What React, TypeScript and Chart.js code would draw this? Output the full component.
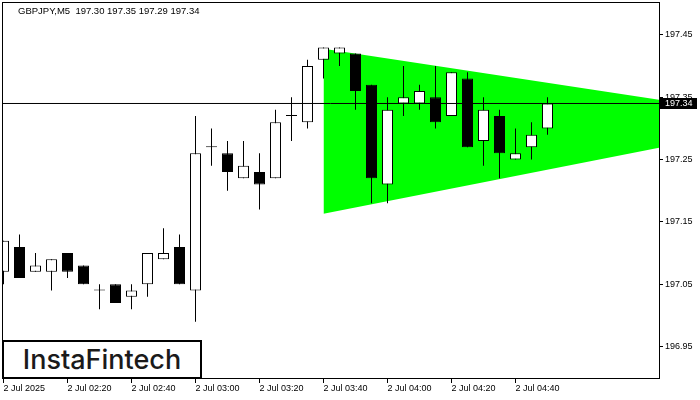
import React, { useEffect, useRef } from "react";
import { Chart, registerables } from "chart.js";

Chart.register(...registerables);

// ---- data ----
const symbolTitle = "GBPJPY,M5";
const barIndex = [0, 1, 2, 3, 4, 5, 6, 7, 8, 9, 10, 11, 12, 13, 14, 15, 16, 17, 18, 19, 20, 21, 22, 23, 24, 25, 26, 27, 28, 29, 30, 31, 32, 33, 34];
const opens = [197.07, 197.11, 197.07, 197.07, 197.10, 197.08, 197.04, 197.05, 197.03, 197.05, 197.09, 197.11, 197.04, 197.27, 197.26, 197.22, 197.23, 197.22, 197.32, 197.31, 197.41, 197.42, 197.42, 197.37, 197.21, 197.34, 197.34, 197.35, 197.32, 197.38, 197.28, 197.32, 197.25, 197.27, 197.30];
const highs = [197.12, 197.13, 197.10, 197.09, 197.10, 197.08, 197.05, 197.05, 197.05, 197.10, 197.14, 197.13, 197.32, 197.30, 197.28, 197.28, 197.26, 197.33, 197.35, 197.41, 197.43, 197.43, 197.42, 197.37, 197.35, 197.40, 197.37, 197.40, 197.39, 197.39, 197.35, 197.33, 197.30, 197.31, 197.35];
const lows = [197.05, 197.06, 197.07, 197.04, 197.06, 197.05, 197.01, 197.02, 197.01, 197.03, 197.09, 197.05, 196.99, 197.24, 197.20, 197.22, 197.17, 197.22, 197.28, 197.30, 197.38, 197.40, 197.33, 197.18, 197.18, 197.32, 197.33, 197.30, 197.32, 197.27, 197.24, 197.22, 197.25, 197.25, 197.29];
const closes = [197.12, 197.06, 197.08, 197.09, 197.07, 197.05, 197.04, 197.02, 197.04, 197.10, 197.10, 197.05, 197.26, 197.27, 197.23, 197.24, 197.21, 197.31, 197.32, 197.40, 197.43, 197.43, 197.36, 197.22, 197.33, 197.35, 197.36, 197.31, 197.39, 197.27, 197.33, 197.26, 197.26, 197.29, 197.34];
const xTickIndex = [0, 4, 8, 12, 16, 20, 24, 28, 32];
const xTickLabels = ["2 Jul 2025", "2 Jul 02:20", "2 Jul 02:40", "2 Jul 03:00", "2 Jul 03:20", "2 Jul 03:40", "2 Jul 04:00", "2 Jul 04:20", "2 Jul 04:40"];
const yTickValues = [196.95, 197.05, 197.15, 197.25, 197.35, 197.45];
const triangleX = [20, 41];
const triangleUpper = [197.428, 197.346];
const triangleLower = [197.163, 197.269];
const currentPrice = closes[closes.length - 1];
const logoText = "InstaFintech";

const X_MIN = -0.09375;
const X_MAX = 40.96875;
const Y_MIN = 196.8997;
const Y_MAX = 197.5028;
const FONT = "Liberation Sans";

const framePlugin = {
  id: "frameAndPrice",
  afterDraw(chart: any) {
    const { ctx, chartArea } = chart;
    ctx.save();
    ctx.strokeStyle = "#000";
    ctx.lineWidth = 1;
    ctx.strokeRect(chartArea.left + 0.5, chartArea.top + 0.5, chartArea.right - chartArea.left, chartArea.bottom - chartArea.top);
    const yScale = chart.scales.y;
    const py = Math.round(yScale.getPixelForValue(currentPrice));
    ctx.fillStyle = "#000";
    ctx.fillRect(chartArea.right + 1, py - 5, 37, 11);
    ctx.fillStyle = "#fff";
    ctx.font = `9px "${FONT}"`;
    ctx.textBaseline = "middle";
    ctx.textAlign = "left";
    ctx.fillText(currentPrice.toFixed(2), chartArea.right + 6, py + 0.5);
    ctx.restore();
  },
};

export default function App() {
  const canvasRef = useRef<HTMLCanvasElement | null>(null);

  useEffect(() => {
    const canvas = canvasRef.current;
    if (!canvas) return;
    const bodies = barIndex.map((i) => ({ x: i, y: [opens[i], closes[i]] }));
    const wicks = barIndex.map((i) => ({ x: i, y: [lows[i], highs[i]] }));
    const bodyColors = barIndex.map((i) => (closes[i] >= opens[i] ? "#ffffff" : "#000000"));

    const chart = new Chart(canvas, {
      type: "bar",
      data: {
        datasets: [
          {
            type: "line",
            data: triangleX.map((x, k) => ({ x, y: triangleUpper[k] })),
            borderColor: "rgba(0,0,0,0)",
            borderWidth: 0,
            pointRadius: 0,
            fill: false,
            order: 4,
          } as any,
          {
            type: "line",
            data: triangleX.map((x, k) => ({ x, y: triangleLower[k] })),
            borderColor: "rgba(0,0,0,0)",
            backgroundColor: "#00ff00",
            borderWidth: 0,
            pointRadius: 0,
            fill: "-1",
            order: 3,
          } as any,
          {
            type: "bar",
            data: wicks,
            backgroundColor: "#000",
            borderWidth: 0,
            barThickness: 1,
            grouped: false,
            inflateAmount: 0,
            order: 2,
          } as any,
          {
            type: "bar",
            data: bodies,
            backgroundColor: bodyColors,
            borderColor: "#000",
            borderWidth: 1,
            borderSkipped: false,
            barThickness: 11,
            minBarLength: 1,
            grouped: false,
            inflateAmount: 0,
            order: 1,
          } as any,
          {
            type: "line",
            data: [
              { x: X_MIN - 1, y: currentPrice },
              { x: X_MAX + 1, y: currentPrice },
            ],
            borderColor: "#000",
            borderWidth: 1,
            pointRadius: 0,
            fill: false,
            order: 0,
          } as any,
        ],
      },
      options: {
        responsive: false,
        animation: false,
        events: [],
        layout: { padding: { left: 2, top: 2, right: 0, bottom: 0 } },
        plugins: {
          legend: { display: false },
          tooltip: { enabled: false },
        },
        scales: {
          x: {
            type: "linear",
            min: X_MIN,
            max: X_MAX,
            offset: false,
            afterFit: (s: any) => {
              s.height = 22;
              s.paddingLeft = 0;
              s.paddingRight = 0;
            },
            afterBuildTicks: (s: any) => {
              s.ticks = xTickIndex.map((v) => ({ value: v }));
            },
            grid: { display: true, drawOnChartArea: false, drawTicks: true, tickLength: 5, color: "#000", offset: false },
            border: { display: false },
            ticks: {
              autoSkip: false,
              maxRotation: 0,
              minRotation: 0,
              align: "start",
              padding: 0,
              color: "#000",
              font: { family: FONT, size: 9 },
              callback: (value: any) => {
                const k = xTickIndex.indexOf(Number(value));
                return k >= 0 ? xTickLabels[k] : "";
              },
            },
          },
          y: {
            type: "linear",
            position: "right",
            min: Y_MIN,
            max: Y_MAX,
            afterFit: (s: any) => {
              s.width = 41;
              s.paddingTop = 0;
              s.paddingBottom = 0;
            },
            afterBuildTicks: (s: any) => {
              s.ticks = yTickValues.map((v) => ({ value: v }));
            },
            grid: { display: true, drawOnChartArea: false, drawTicks: true, tickLength: 4, color: "#000" },
            border: { display: false },
            ticks: {
              padding: 2,
              color: "#000",
              font: { family: FONT, size: 9 },
              callback: (value: any) => Number(value).toFixed(2),
            },
          },
        },
      } as any,
      plugins: [framePlugin],
    });
    return () => chart.destroy();
  }, []);

  const last = closes.length - 1;
  const header = `${symbolTitle}  ${opens[last].toFixed(2)} ${highs[last].toFixed(2)} ${lows[last].toFixed(2)} ${closes[last].toFixed(2)}`;

  return (
    <div style={{ position: "fixed", left: 0, top: 0, width: 700, height: 400, background: "#fff", overflow: "hidden" }}>
      <canvas ref={canvasRef} width={700} height={400} style={{ position: "absolute", left: 0, top: 0, width: 700, height: 400 }} />
      <div
        style={{
          position: "absolute",
          left: 18,
          top: 5,
          font: `9.5px "${FONT}"`,
          lineHeight: "12px",
          whiteSpace: "pre",
          color: "#000",
        }}
      >
        {header}
      </div>
      <div
        style={{
          position: "absolute",
          left: 2,
          top: 340,
          width: 200,
          height: 39,
          boxSizing: "border-box",
          border: "2px solid #000",
          background: "#fff",
          display: "flex",
          alignItems: "center",
          justifyContent: "center",
          font: '500 27px Inter, "Noto Sans", sans-serif',
          color: "#1a1a1a",
        }}
      >
        {logoText}
      </div>
    </div>
  );
}
